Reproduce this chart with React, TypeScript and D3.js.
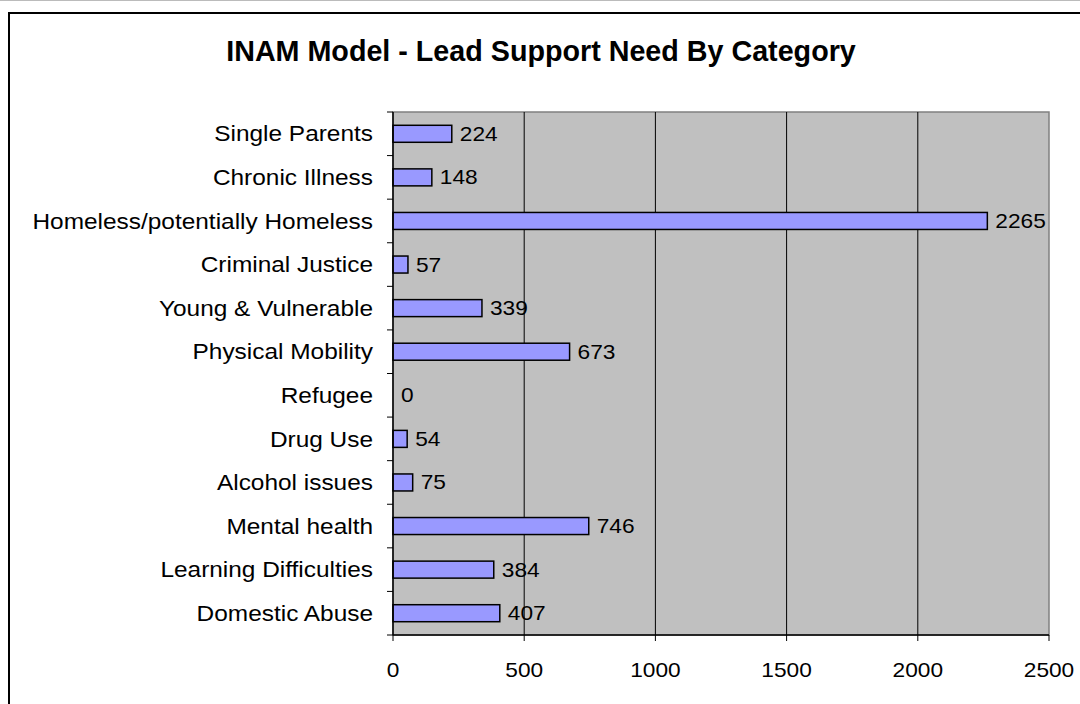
import * as d3 from 'd3'

const categories = [
  'Single Parents',
  'Chronic Illness',
  'Homeless/potentially Homeless',
  'Criminal Justice',
  'Young & Vulnerable',
  'Physical Mobility',
  'Refugee',
  'Drug Use',
  'Alcohol issues',
  'Mental health',
  'Learning Difficulties',
  'Domestic Abuse',
]
const values = [224, 148, 2265, 57, 339, 673, 0, 54, 75, 746, 384, 407]
const xTicks = [0, 500, 1000, 1500, 2000, 2500]

const W = 1080
const H = 704
const PLOT = { left: 393, right: 1049, top: 112, bottom: 635 }
const FONT = 'Liberation Sans, Arial, sans-serif'
// the reference text is a little wider than plain Arial
const SX_NUM = 1.135
const SX_CAT = 1.11

export default function App() {
  const x = d3.scaleLinear().domain([0, 2500]).range([PLOT.left, PLOT.right])
  const y = d3.scaleBand<string>().domain(categories).range([PLOT.top, PLOT.bottom]).paddingInner(0.61).paddingOuter(0.305)
  const band = d3.scaleBand<string>().domain(categories).range([PLOT.top, PLOT.bottom])

  return (
    <svg width={W} height={H} style={{ position: 'absolute', left: 0, top: 0, background: '#fff' }}>
      <line x1={0} x2={W} y1={0.5} y2={0.5} stroke="#bbb" />
      <rect x={9} y={13} width={W + 20} height={H + 20} fill="#fff" stroke="#000" strokeWidth={2} />
      <text x={541} y={61} textAnchor="middle" fontFamily={FONT} fontWeight="bold" fontSize={28.7}>
        INAM Model - Lead Support Need By Category
      </text>

      <rect x={PLOT.left} y={PLOT.top} width={PLOT.right - PLOT.left} height={PLOT.bottom - PLOT.top} fill="#c0c0c0" stroke="#808080" strokeWidth={1.5} />

      {/* gridlines */}
      {xTicks.slice(1, -1).map(t => (
        <line key={t} x1={x(t)} x2={x(t)} y1={PLOT.top} y2={PLOT.bottom} stroke="#000" strokeWidth={1} />
      ))}

      {/* bars */}
      {categories.map((c, i) => (
        <g key={c}>
          {values[i] > 0 && (
            <rect x={x(0)} y={y(c)} width={x(values[i]) - x(0)} height={y.bandwidth()} fill="#9999ff" stroke="#000" strokeWidth={1.5} />
          )}
          <text
            transform={`translate(${x(values[i]) + 8},${(y(c) ?? 0) + y.bandwidth() / 2}) scale(${SX_NUM},1)`}
            dy="0.35em"
            fontFamily={FONT}
            fontSize={20}
          >
            {values[i]}
          </text>
          <text
            transform={`translate(373,${(band(c) ?? 0) + band.bandwidth() / 2}) scale(${SX_CAT},1)`}
            dy="0.35em"
            textAnchor="end"
            fontFamily={FONT}
            fontSize={22}
          >
            {c}
          </text>
        </g>
      ))}

      {/* axes */}
      <line x1={PLOT.left} x2={PLOT.left} y1={PLOT.top} y2={PLOT.bottom} stroke="#000" strokeWidth={1.5} />
      <line x1={PLOT.left} x2={PLOT.right} y1={PLOT.bottom} y2={PLOT.bottom} stroke="#000" strokeWidth={1.5} />
      {[...categories.map(c => band(c) ?? 0), PLOT.bottom].map((v, i) => (
        <line key={i} x1={PLOT.left - 6} x2={PLOT.left} y1={v} y2={v} stroke="#000" strokeWidth={1} />
      ))}
      {xTicks.map(t => (
        <g key={t}>
          <line x1={x(t)} x2={x(t)} y1={PLOT.bottom} y2={PLOT.bottom + 6} stroke="#000" strokeWidth={1} />
          <text transform={`translate(${x(t)},670) scale(${SX_NUM},1)`} dy="0.35em" textAnchor="middle" fontFamily={FONT} fontSize={20}>
            {t}
          </text>
        </g>
      ))}
    </svg>
  )
}
